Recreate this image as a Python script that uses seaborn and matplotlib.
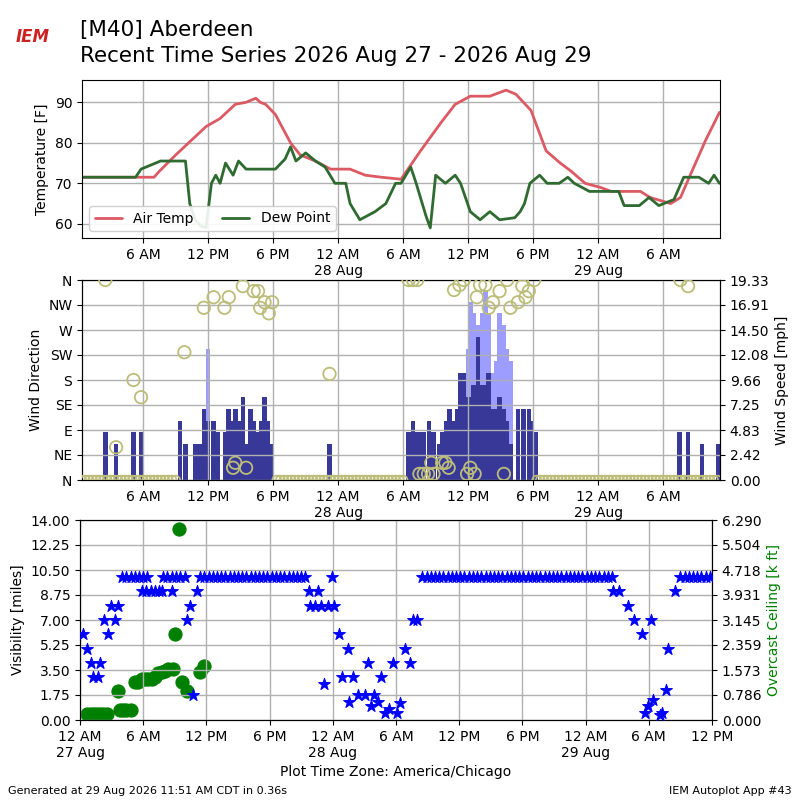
import matplotlib
matplotlib.use("Agg")
import matplotlib.pyplot as plt
import matplotlib.dates as mdates
import seaborn as sns
import pandas as pd
import numpy as np

# hours since 27 Aug 2026 00:00 local
temp_hours = [0.4, 7, 7.5, 9, 10.4, 11.8, 13.1, 14.5, 15.5, 16.4, 16.8, 17.3, 18.2, 19.6, 20.5,
              21.9, 23.3, 25.1, 26.5, 28, 29.8, 31.6, 33.5, 34.8, 36.2, 38, 39.5, 40.4, 41.8,
              43.2, 44.5, 45.5, 46.8, 48.2, 49.2, 51.9, 52.8, 54.7, 55.6, 56.5, 57.9, 59.2]
temp_vals = [71.5, 71.5, 73, 77, 80.5, 84, 86, 89.5, 90, 91, 90, 89.5, 87, 80, 77,
             75.5, 73.5, 73.5, 72, 71.5, 71, 78, 85, 89.5, 91.5, 91.5, 93, 92, 88,
             78, 75, 73, 70, 69, 68, 68, 66.5, 65, 66.5, 72, 80.5, 87.5]
dew_hours = [0.4, 5.3, 5.8, 7.6, 9.9, 10.3, 10.8, 11.3, 11.8, 12.3, 12.7, 13.1, 13.6, 14.3, 14.8,
             15.5, 18.2, 19.1, 19.6, 20.1, 21.0, 21.9, 22.8, 23.7, 24.7, 25.1, 26.0, 27.4, 28.4,
             29.3, 29.8, 30.7, 31.2, 32.1, 32.5, 33.0, 33.9, 34.8, 35.3, 36.2, 37.1, 38.0,
             38.9, 40.3, 40.8, 41.2, 41.7, 42.6, 43.3, 44.4, 45.2, 45.8, 47.2, 49.9, 50.4,
             51.8, 52.7, 53.6, 55.0, 55.9, 57.3, 58.2, 58.7, 59.2]
dew_vals = [71.5, 71.5, 73.5, 75.5, 75.5, 65, 61, 59.5, 59, 70, 72, 70, 75, 72, 75.5,
            73.5, 73.5, 76, 79, 75.5, 77.5, 75.5, 74, 70, 70, 65, 61, 63, 65,
            70, 70, 74, 70, 62, 59, 72, 70, 72, 70, 63, 61, 63,
            61, 61.5, 63, 65, 70, 72, 70, 70, 71.5, 70, 68, 68, 64.5,
            64.5, 66.5, 64.5, 66, 71.5, 71.5, 70, 72, 70]

wind_hours = [2.5, 3.5, 5.1, 5.8, 9.4, 9.9, 10.8, 11.1, 11.3, 11.6, 12.0, 12.5, 12.9, 13.6, 13.9,
              14.3, 14.5, 14.8, 15.2, 15.5, 15.9, 16.2, 16.6, 16.9, 17.2, 17.5, 17.9, 23.2,
              30.5, 30.9, 31.3, 31.6, 31.9, 32.4, 32.8, 33.3, 33.6, 34.0, 34.3, 34.7, 35.0,
              35.3, 35.6, 36.0, 36.2, 36.5, 36.9, 37.3, 37.6, 37.9, 38.3, 38.6, 38.9, 39.3,
              39.6, 39.9, 40.6, 41.1, 41.6, 41.9, 42.2, 55.5, 56.3, 57.6, 59.1]
wind_speed = [4.6, 3.45, 4.6, 4.6, 5.75, 3.45, 3.45, 3.45, 3.45, 6.9, 5.75, 5.75, 4.6, 4.6, 6.9,
              5.75, 6.9, 5.75, 8.05, 3.45, 6.9, 5.75, 4.6, 5.75, 8.05, 5.75, 3.45, 3.45,
              4.6, 5.75, 4.6, 4.6, 4.6, 5.75, 4.6, 3.45, 4.6, 5.75, 6.9, 5.75, 6.9,
              10.35, 10.35, 8.05, 8.05, 9.2, 13.8, 9.2, 9.2, 10.35, 6.9, 6.9, 8.05, 6.9,
              5.75, 3.45, 6.9, 6.9, 6.9, 5.75, 4.6, 4.6, 4.6, 3.45, 3.45]
gust_hours = [12.0, 36.0, 36.2, 36.5, 36.9, 37.3, 37.6, 37.9, 38.3, 38.6, 38.9, 39.3, 39.6, 39.9]
gust_speed = [12.65, 12.65, 17.25, 16.1, 14.95, 16.1, 18.4, 16.1, 10.35, 11.5, 16.1, 14.95, 12.65, 11.5]

drct_hours = [2.5, 3.5, 5.1, 5.8, 9.8, 11.6, 12.5, 13.5, 13.9, 15.2, 16.2, 16.6, 16.8, 17.2, 17.6,
              17.9, 14.3, 14.5, 15.5, 23.2, 30.5, 30.9, 31.3, 34.7, 35.2, 35.6, 36.8, 37.1, 37.6,
              37.9, 38.3, 38.9, 39.6, 39.9, 40.6, 41.0, 41.3, 41.6, 42.1, 31.5, 31.9, 32.3,
              32.8, 32.6, 33.6, 33.9, 34.2, 35.9, 36.2, 36.6, 39.3, 55.6, 56.3]
drct_vals = [360, 59, 180, 149, 230, 310, 329, 310, 329, 349, 340, 340, 310, 320, 300,
             320, 22, 31, 22, 191, 360, 360, 360, 342, 351, 360, 329, 351, 351,
             310, 320, 340, 360, 310, 320, 349, 329, 340, 360, 11, 11, 11,
             11, 31, 31, 31, 22, 11, 22, 11, 11, 360, 349]
# calm reports (direction 0) every 20 minutes outside the windy spells
calm_hours = [h for h in np.arange(0.33, 59.3, 1 / 3)
              if not (9.3 < h < 18.0 or 30.2 < h < 42.3)]

vis_hours = [0.3, 0.7, 1.0, 1.9, 1.2, 1.7, 2.3, 2.7, 2.9, 3.6, 3.3,
             4.0, 4.4, 4.8, 5.2, 5.6, 6.0, 6.4, 5.9, 6.3, 6.7, 7.1, 7.5, 7.8, 7.9, 8.3, 8.7,
             9.1, 9.5, 10.0, 8.7, 10.2, 10.4, 11.1, 10.7] + \
            [11.4 + 0.4 * i for i in range(26)] + \
            [21.7, 22.6, 21.8, 22.3, 22.9, 23.5, 24.1, 23.9, 24.6, 25.4, 23.2, 24.9, 25.9, 28.6,
             25.5, 26.4, 27.1, 27.9, 27.3, 29.7, 27.6, 28.3, 29.0, 29.3, 30.1, 30.4, 30.9, 31.3,
             31.6, 32.0] + \
            [32.5 + 0.4 * i for i in range(46)] + \
            [50.6, 51.2, 52.0, 52.6, 53.4, 54.2, 53.6, 53.9, 54.4, 55.1, 55.3, 55.6, 55.8, 56.5] + \
            [57.0 + 0.4 * i for i in range(8)]
vis_vals = [6, 5, 4, 4, 3, 3, 7, 6, 8, 8, 7,
            10, 10, 10, 10, 10, 10, 10, 9, 9, 9, 9, 9, 9, 10, 10, 10,
            10, 10, 10, 9, 7, 8, 9, 1.75] + \
           [10] * 26 + \
           [9, 9, 8, 8, 8, 8, 8, 10, 6, 5, 2.5, 3, 3, 3,
            1.25, 1.75, 1.75, 1.75, 4, 4, 1.0, 1.25, 0.5, 0.8, 0.5, 1.2, 5, 4,
            7, 7] + \
           [10] * 46 + \
           [9, 9, 8, 7, 6, 7, 0.5, 1.0, 1.4, 0.35, 0.5, 2.1, 5, 9] + \
           [10] * 8

ceil_hours = [0.7, 1.0, 1.3, 1.6, 1.9, 2.2, 2.6, 3.6, 3.8, 4.1, 4.4, 4.8, 5.2, 5.5, 5.9,
              6.2, 6.5, 6.8, 7.1, 7.4, 7.8, 8.1, 8.4, 8.8, 9.0, 9.4, 9.7, 10.2, 11.4, 11.8]
ceil_vals = [0.19, 0.19, 0.19, 0.19, 0.19, 0.19, 0.19, 0.9, 0.31, 0.31, 0.31, 0.31, 1.2, 1.2, 1.29,
             1.29, 1.29, 1.29, 1.35, 1.47, 1.5, 1.55, 1.6, 1.6, 2.7, 6.0, 1.2, 0.9, 1.5, 1.7]

t0 = pd.Timestamp("2026-08-27 00:00")


def to_time(hours):
    return [t0 + pd.Timedelta(hours=float(h)) for h in hours]


def fmt_time(x, pos=None):
    d = mdates.num2date(x)
    h = d.hour % 12 or 12
    ampm = "AM" if d.hour < 12 else "PM"
    s = f"{h} {ampm}"
    if d.hour == 0:
        s += "\n" + d.strftime("%d %b").lstrip("0")
    return s


sns.set_style("ticks")
plt.rcParams["font.family"] = ["DejaVu Sans"]
for k in ("text.color", "axes.labelcolor", "xtick.color", "ytick.color"):
    plt.rcParams[k] = "black"

fig = plt.figure(figsize=(8, 8), dpi=100)
ax1 = fig.add_axes([0.1025, 0.7025, 0.7975, 0.1975])
ax2 = fig.add_axes([0.1025, 0.40, 0.7975, 0.25])
ax3 = fig.add_axes([0.10, 0.10, 0.79, 0.25])

xlim_top = (mdates.date2num(t0 + pd.Timedelta(hours=0.35)), mdates.date2num(t0 + pd.Timedelta(hours=59.25)))
xlim_bot = (mdates.date2num(t0), mdates.date2num(t0 + pd.Timedelta(hours=60)))

# temperature panel
sns.lineplot(x=to_time(temp_hours), y=temp_vals, ax=ax1, color="#dc5a64", lw=2, label="Air Temp")
sns.lineplot(x=to_time(dew_hours), y=dew_vals, ax=ax1, color="#2f6a30", lw=2, label="Dew Point")
ax1.set_ylim(56.5, 95.5)
ax1.set_yticks([60, 70, 80, 90])
ax1.set_ylabel("Temperature [F]")
ax1.legend(loc="lower left", ncol=2, fontsize=10, framealpha=0.9)

# wind panel
bw = 0.42 / 24
ax2b = ax2.twinx()
ax2b.bar(to_time(gust_hours), gust_speed, width=bw, color="#9d9dff", linewidth=0, zorder=1)
ax2b.bar(to_time(wind_hours), wind_speed, width=bw, color="#373897", linewidth=0, zorder=2)
ax2b.set_ylim(0, 19.33)
ax2b.set_yticks(np.linspace(0, 19.33, 9))
ax2b.set_yticklabels([f"{v:.2f}" for v in np.linspace(0, 19.33, 9)])
ax2b.set_ylabel("Wind Speed [mph]")
ax2.set_zorder(ax2b.get_zorder() + 1)
ax2.patch.set_visible(False)
sns.scatterplot(x=to_time(drct_hours), y=drct_vals, ax=ax2, s=80, facecolor="none",
                edgecolor="#bdbd7a", linewidth=1.3, zorder=3)
sns.scatterplot(x=to_time(calm_hours), y=[0] * len(calm_hours), ax=ax2, s=40, facecolor="none",
                edgecolor="#bdbd7a", linewidth=1.2, zorder=3)
ax2.set_ylim(0, 360)
ax2.set_yticks(range(0, 361, 45))
ax2.set_yticklabels(["N", "NE", "E", "SE", "S", "SW", "W", "NW", "N"])
ax2.set_ylabel("Wind Direction")

# visibility / ceiling panel
ax3b = ax3.twinx()
sns.scatterplot(x=to_time(ceil_hours), y=ceil_vals, ax=ax3b, s=90, color="green", edgecolor="green", zorder=2)
ax3b.set_ylim(0, 6.29)
ax3b.set_yticks(np.linspace(0, 6.29, 9))
ax3b.set_yticklabels([f"{v:.3f}" for v in np.linspace(0, 6.29, 9)])
ax3b.set_ylabel("Overcast Ceiling [k ft]", color="green")
ax3.set_zorder(ax3b.get_zorder() + 1)
ax3.patch.set_visible(False)
sns.scatterplot(x=to_time(vis_hours), y=vis_vals, ax=ax3, marker="*", s=80, color="blue",
                edgecolor="blue", zorder=3)
ax3.set_ylim(0, 14)
ax3.set_yticks(np.arange(0, 14.01, 1.75))
ax3.set_yticklabels([f"{v:.2f}" for v in np.arange(0, 14.01, 1.75)])
ax3.set_ylabel("Visibility [miles]")
ax3.set_xlabel("Plot Time Zone: America/Chicago")

for ax, lim in ((ax1, xlim_top), (ax2, xlim_top), (ax3, xlim_bot)):
    ax.set_xlim(*lim)
    ax.xaxis.set_major_locator(mdates.HourLocator(byhour=[0, 6, 12, 18]))
    ax.xaxis.set_major_formatter(plt.FuncFormatter(fmt_time))
    ax.grid(True, color="#b0b0b0", lw=1)
    for sp in ax.spines.values():
        sp.set_visible(True)
        sp.set_color("black")
for ax in (ax2b, ax3b):
    for sp in ax.spines.values():
        sp.set_color("black")

fig.text(0.10, 0.955, "[M40] Aberdeen", fontsize=15.5)
fig.text(0.10, 0.922, "Recent Time Series 2026 Aug 27 - 2026 Aug 29", fontsize=15.5)
fig.text(0.02, 0.948, "IEM", fontsize=12, color="#cc2222", style="italic", fontweight="bold")
fig.text(0.01, 0.008, "Generated at 29 Aug 2026 11:51 AM CDT in 0.36s", fontsize=8)
fig.text(0.99, 0.008, "IEM Autoplot App #43", fontsize=8, ha="right")

fig.savefig("out.png", dpi=100)
